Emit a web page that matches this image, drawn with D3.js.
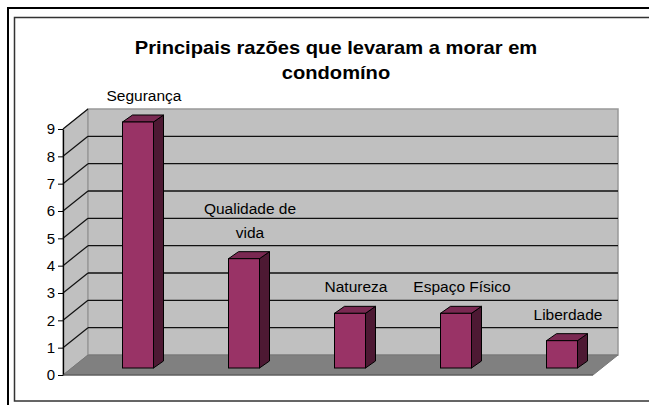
<!DOCTYPE html>
<html>
<head>
<meta charset="utf-8">
<script src="https://cdn.jsdelivr.net/npm/d3@7"></script>
<style>
  body { margin: 0; background: #fff; }
  text { font-family: "Liberation Sans", Arial, sans-serif; fill: #000; }
</style>
</head>
<body>
<div id="container"></div>
<script>
// data
const categories = ["Segurança", "Qualidade de vida", "Natureza", "Espaço Físico", "Liberdade"];
const values = [9, 4, 2, 2, 1];
const labelLines = [["Segurança"], ["Qualidade de", "vida"], ["Natureza"], ["Espaço Físico"], ["Liberdade"]];
const yTicks = [0, 1, 2, 3, 4, 5, 6, 7, 8, 9];
const titleLines = ["Principais razões que levaram a morar em", "condomíno"];

const width = 649, height = 405;
const plot = {left: 63, right: 593, top: 129, bottom: 375};
const depth = {dx: 25, dy: 20};        // 3d depth of the walls
const bar = {w: 31, dx: 10, dy: 7, shiftX: 22, shiftY: 7};

const svg = d3.select('#container')
    .append("svg")
    .attr("width", width)
    .attr("height", height);

// frame
svg.append("rect")
    .attr("x", 8).attr("y", 8)
    .attr("width", 660).attr("height", 420)
    .attr("fill", "none")
    .attr("stroke", "#000")
    .attr("stroke-width", 2);
svg.append("rect")
    .attr("x", 14.5).attr("y", 17.5)
    .attr("width", 660).attr("height", 383.5)
    .attr("fill", "none")
    .attr("stroke", "#333")
    .attr("stroke-width", 1.5);

const x = d3.scaleBand()
    .domain(categories)
    .range([plot.left, plot.right]);

const y = d3.scaleLinear()
    .domain([0, 9])
    .range([plot.bottom, plot.top]);

// walls
const pts = p => p.map(d => d.join(",")).join(" ");
svg.append("polygon") // left wall
    .attr("points", pts([[plot.left, y(0)], [plot.left, y(9)], [plot.left + depth.dx, y(9) - depth.dy], [plot.left + depth.dx, y(0) - depth.dy]]))
    .attr("fill", "#c0c0c0")
    .attr("stroke", "#8a8a8a");
svg.append("rect") // back wall
    .attr("x", plot.left + depth.dx)
    .attr("y", y(9) - depth.dy)
    .attr("width", plot.right - plot.left)
    .attr("height", y(0) - y(9))
    .attr("fill", "#c0c0c0")
    .attr("stroke", "#999")
    .attr("stroke-width", 1.5);
svg.append("polygon") // floor
    .attr("points", pts([[plot.left, y(0)], [plot.right, y(0)], [plot.right + depth.dx, y(0) - depth.dy], [plot.left + depth.dx, y(0) - depth.dy]]))
    .attr("fill", "#808080")
    .attr("stroke", "#777");

// gridlines on back wall and left wall
const grid = yTicks.filter(d => d > 0 && d < 9);
svg.selectAll(".grid")
    .data(grid)
    .enter()
    .append("line")
    .attr("class", "grid")
    .attr("x1", plot.left + depth.dx)
    .attr("x2", plot.right + depth.dx)
    .attr("y1", d => y(d) - depth.dy)
    .attr("y2", d => y(d) - depth.dy)
    .attr("stroke", "#111")
    .attr("stroke-width", 1.3);
svg.selectAll(".sidegrid")
    .data(yTicks.filter(d => d > 0))
    .enter()
    .append("line")
    .attr("class", "sidegrid")
    .attr("x1", plot.left)
    .attr("x2", plot.left + depth.dx)
    .attr("y1", d => y(d))
    .attr("y2", d => y(d) - depth.dy)
    .attr("stroke", "#111")
    .attr("stroke-width", 1.2);

// y axis
const yAxis = svg.append("g")
    .attr("transform", "translate(" + plot.left + ",0)")
    .call(d3.axisLeft(y).tickValues(yTicks).tickSize(5).tickPadding(3).tickSizeOuter(0));
yAxis.select(".domain").attr("stroke", "#000").attr("stroke-width", 1.3);
yAxis.selectAll(".tick line").attr("stroke", "#000");
yAxis.selectAll(".tick text")
    .style("font-size", "15px")
    .attr("fill", "#000");
svg.append("line")
    .attr("x1", plot.left).attr("x2", plot.right)
    .attr("y1", y(0)).attr("y2", y(0))
    .attr("stroke", "#555");

// bars
const bars = svg.selectAll(".bar")
    .data(values)
    .enter()
    .append("g")
    .attr("class", "bar")
    .attr("transform", (d, i) => 'translate(' + (x(categories[i]) + x.bandwidth() / 2 - bar.w / 2 + bar.shiftX) + ',' + (-bar.shiftY) + ')');

bars.append("polygon") // side
    .attr("points", d => pts([[bar.w, y(d)], [bar.w + bar.dx, y(d) - bar.dy], [bar.w + bar.dx, y(0) - bar.dy], [bar.w, y(0)]]))
    .attr("fill", "#4d1933")
    .attr("stroke", "#000");
bars.append("polygon") // top
    .attr("points", d => pts([[0, y(d)], [bar.dx, y(d) - bar.dy], [bar.w + bar.dx, y(d) - bar.dy], [bar.w, y(d)]]))
    .attr("fill", "#7a2952")
    .attr("stroke", "#000");
bars.append("rect") // front
    .attr("x", 0)
    .attr("y", d => y(d))
    .attr("width", bar.w)
    .attr("height", d => y(0) - y(d))
    .attr("fill", "#993366")
    .attr("stroke", "#000");

// category labels above bars
const labels = svg.selectAll(".catlabel")
    .data(values)
    .enter()
    .append("text")
    .attr("class", "catlabel")
    .attr("text-anchor", "middle")
    .style("font-size", "15.5px");
labels.each(function (d, i) {
    const lines = labelLines[i];
    const cx = x(categories[i]) + x.bandwidth() / 2 + bar.shiftX + 6;
    const base = y(d) - 28 - (lines.length - 1) * 24;
    d3.select(this).selectAll("tspan")
        .data(lines)
        .enter()
        .append("tspan")
        .attr("x", cx)
        .attr("y", (t, j) => base + j * 24)
        .text(t => t);
});

// title (the original is a bit stretched sideways)
svg.selectAll(".title")
    .data(titleLines)
    .enter()
    .append("text")
    .attr("class", "title")
    .attr("text-anchor", "middle")
    .attr("transform", (d, i) => "translate(336," + (54 + i * 25) + ") scale(1.15,1)")
    .style("font-size", "17.5px")
    .style("font-weight", "bold")
    .text(d => d);
</script>
</body>
</html>
